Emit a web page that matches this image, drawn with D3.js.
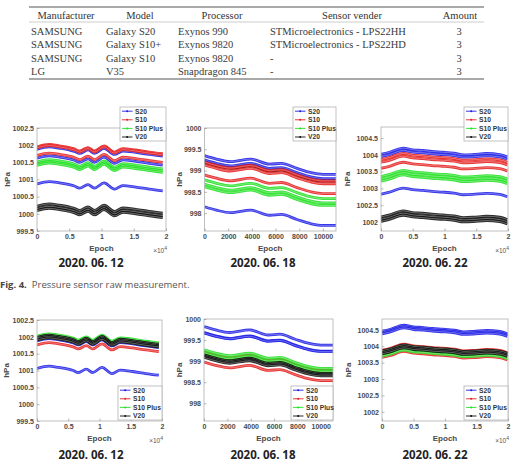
<!DOCTYPE html>
<html>
<head>
<meta charset="utf-8">
<script src="https://cdn.jsdelivr.net/npm/d3@7"></script>
<style>
  body { margin: 0; background: #fff; }
  svg { display: block; }
  .tick text { font-family: "Liberation Sans", Arial, sans-serif; font-weight: bold; font-size: 7px; fill: #4a4a4a; }
  .tick line { stroke: #8a8a8a; stroke-width: 0.6; }
</style>
</head>
<body>
<script>
////////////////// Table data ////////////////////
var tableHeader = ["Manufacturer", "Model", "Processor", "Sensor vender", "Amount"];
var tableRows = [
  ["SAMSUNG", "Galaxy S20", "Exynos 990", "STMicroelectronics - LPS22HH", "3"],
  ["SAMSUNG", "Galaxy S10+", "Exynos 9820", "STMicroelectronics - LPS22HD", "3"],
  ["SAMSUNG", "Galaxy S10", "Exynos 9820", "-", "3"],
  ["LG", "V35", "Snapdragon 845", "-", "3"]
];

////////////////// Chart data ////////////////////
var models = ["S20", "S10", "S10 Plus", "V20"];
var dates = ["2020. 06. 12", "2020. 06. 18", "2020. 06. 22"];

// common pressure trend of each day (hPa, relative to the first epoch)
var epoch0612 = [0, 1900, 3500, 5000, 5800, 6600, 7900, 8900, 10400, 12000, 13300, 15300, 17400, 19500];
var trend0612 = [0, 0.07, 0.03, -0.02, -0.06, -0.12, -0.02, -0.12, 0.03, -0.15, -0.05, -0.09, -0.15, -0.2];
var epoch0618 = [0, 1000, 2200, 3900, 5500, 6500, 7800, 9000, 10000, 11100];
var trend0618 = [0, -0.08, -0.14, -0.08, -0.2, -0.18, -0.3, -0.4, -0.44, -0.44];
var epoch0622 = [0, 1200, 3500, 5000, 6600, 8000, 9700, 11500, 13000, 14500, 16600, 18700, 19900];
var trend0622 = [0, 0.05, 0.18, 0.13, 0.11, 0.08, 0.06, 0.03, -0.02, -0.01, 0.02, -0.01, -0.08];

// start value of every device (3 per model), order S20, S10, S10 Plus, V20
var raw0612 = [[1001.88, 1001.62, 1000.87], [1001.95, 1001.92, 1001.70], [1001.51, 1001.45, 1001.41], [1000.22, 1000.15, 1000.09]];
var raw0618 = [[999.35, 999.25, 998.15], [999.20, 999.13, 998.90], [998.78, 998.68, 998.62], [999.22, 999.21, 999.19]];
var raw0622 = [[1004.02, 1003.95, 1002.83], [1003.86, 1003.78, 1003.60], [1003.36, 1003.29, 1003.22], [1002.15, 1002.08, 1002.02]];
var cal0612 = [[1001.93, 1001.88, 1001.06], [1001.98, 1001.92, 1001.76], [1002.02, 1001.97, 1001.92], [1001.98, 1001.94, 1001.90]];
var cal0618 = [[999.82, 999.68, 999.67], [999.22, 999.19, 998.98], [999.27, 999.20, 999.15], [999.15, 999.12, 999.09]];
var cal0622 = [[1004.46, 1004.42, 1004.38], [1003.88, 1003.82, 1003.66], [1003.84, 1003.76, 1003.70], [1003.86, 1003.81, 1003.77]];

// tick labels
var xTicksE4 = [0, 5000, 10000, 15000, 20000];
var xTicks0618 = [0, 2000, 4000, 6000, 8000, 10000];
var yTicks0612 = [999.5, 1000, 1000.5, 1001, 1001.5, 1002, 1002.5];
var yTicks0618 = [998, 998.5, 999, 999.5, 1000];
var yTicks0622 = [1002, 1002.5, 1003, 1003.5, 1004, 1004.5];

var modelColors = ["#1f1fe6", "#e61f1f", "#22e022", "#111111"];

////////////////// SVG Container ////////////////////
var svg = d3.select("body").append("svg")
  .attr("width", 514)
  .attr("height", 461);

////////////////// Table ////////////////////
var colLeft = [31, 106, 178, 270, 459];
var colHead = [66, 140, 222, 352, 460];
var serif = "'Liberation Serif', 'Times New Roman', serif";

svg.append("line").attr("x1", 29).attr("x2", 484).attr("y1", 7).attr("y2", 7)
  .attr("stroke", "#8c8c8c").attr("stroke-width", 1.6);
svg.append("line").attr("x1", 29).attr("x2", 484).attr("y1", 22).attr("y2", 22)
  .attr("stroke", "#b8b8b8").attr("stroke-width", 0.7);
svg.append("line").attr("x1", 29).attr("x2", 484).attr("y1", 79).attr("y2", 79)
  .attr("stroke", "#8c8c8c").attr("stroke-width", 1.6);

tableHeader.forEach(function (h, i) {
  svg.append("text")
    .attr("x", colHead[i]).attr("y", 18.5)
    .attr("text-anchor", "middle")
    .style("font-family", serif).style("font-size", "10.5px").style("fill", "#333")
    .text(h);
});
tableRows.forEach(function (row, r) {
  row.forEach(function (cell, i) {
    svg.append("text")
      .attr("x", colLeft[i]).attr("y", 34.5 + r * 13.5)
      .attr("text-anchor", i == 4 ? "middle" : "start")
      .style("font-family", serif).style("font-size", "10.5px").style("fill", "#3a3a3a")
      .text(cell);
  });
});

////////////////// Panels ////////////////////
var fmtE4 = function (d) { return String(d / 10000); };
var fmtPlain = function (d) { return String(d); };

var panels = [
  { left: 37, right: 166, top: 128, bottom: 231, xMax: 20000, yDomain: [999.5, 1002.5],
    epochs: epoch0612, trend: trend0612, offsets: raw0612, xTicks: xTicksE4, yTicks: yTicks0612, xFormat: fmtE4,
    order: [0, 1, 2, 3], legend: [120, 107], exp: true, hpaX: 7 },
  { left: 204.5, right: 336, top: 128, bottom: 231, xMax: 11100, yDomain: [997.58, 1000],
    epochs: epoch0618, trend: trend0618, offsets: raw0618, xTicks: xTicks0618, yTicks: yTicks0618, xFormat: fmtPlain,
    order: [3, 0, 1, 2], legend: [293, 107], exp: false, hpaX: 179 },
  { left: 381, right: 508, top: 127, bottom: 231, xMax: 20000, yDomain: [1001.73, 1004.83],
    epochs: epoch0622, trend: trend0622, offsets: raw0622, xTicks: xTicksE4, yTicks: yTicks0622, xFormat: fmtE4,
    order: [0, 1, 2, 3], legend: [464, 107], exp: true, hpaX: 347 },
  { left: 37, right: 162, top: 320, bottom: 421, xMax: 20000, yDomain: [999.5, 1002.5],
    epochs: epoch0612, trend: trend0612, offsets: cal0612, xTicks: xTicksE4, yTicks: yTicks0612, xFormat: fmtE4,
    order: [0, 1, 2, 3], legend: [118, 386], exp: true, hpaX: 6 },
  { left: 204, right: 333, top: 319, bottom: 421, xMax: 11050, yDomain: [997.58, 1000],
    epochs: epoch0618, trend: trend0618, offsets: cal0618, xTicks: xTicks0618, yTicks: yTicks0618, xFormat: fmtPlain,
    order: [0, 1, 2, 3], legend: [291, 386], exp: false, hpaX: 179 },
  { left: 382, right: 508, top: 319, bottom: 421, xMax: 20000, yDomain: [1001.72, 1004.83],
    epochs: epoch0622, trend: trend0622, offsets: cal0622, xTicks: xTicksE4, yTicks: yTicks0622, xFormat: fmtE4,
    order: [0, 1, 2, 3], legend: [464, 386], exp: true, hpaX: 348 }
];

var sans = "'Liberation Sans', Arial, sans-serif";

panels.forEach(function (p, k) {
  var x = d3.scaleLinear().domain([0, p.xMax]).range([p.left, p.right]);
  var y = d3.scaleLinear().domain(p.yDomain).range([p.bottom, p.top]);
  var g = svg.append("g");

  g.append("clipPath").attr("id", "clip" + k)
    .append("rect")
    .attr("x", p.left).attr("y", p.top)
    .attr("width", p.right - p.left).attr("height", p.bottom - p.top);

  var line = d3.line()
    .x(function (d) { return x(d[0]); })
    .y(function (d) { return y(d[1]); })
    .curve(d3.curveMonotoneX);

  var lines = g.append("g").attr("clip-path", "url(#clip" + k + ")");
  p.order.forEach(function (m) {
    p.offsets[m].forEach(function (v) {
      var pts = p.epochs.map(function (e, i) { return [e, v + p.trend[i]]; });
      lines.append("path").attr("d", line(pts))
        .attr("fill", "none").attr("stroke", modelColors[m]).attr("stroke-width", 2.8)
        .attr("stroke-opacity", 0.9);
      lines.append("path").attr("d", line(pts))
        .attr("fill", "none").attr("stroke", "#fff").attr("stroke-opacity", 0.45).attr("stroke-width", 0.7);
    });
  });

  // box
  g.append("rect")
    .attr("x", p.left).attr("y", p.top)
    .attr("width", p.right - p.left).attr("height", p.bottom - p.top)
    .attr("fill", "none").attr("stroke", "#b0b0b0").attr("stroke-width", 0.8);

  // axes
  var xAxis = g.append("g")
    .attr("transform", "translate(0," + p.bottom + ")")
    .call(d3.axisBottom(x).tickValues(p.xTicks).tickSizeInner(-2.5).tickSizeOuter(0).tickPadding(3.5).tickFormat(p.xFormat));
  xAxis.select(".domain").remove();

  var yAxis = g.append("g")
    .attr("transform", "translate(" + p.left + ",0)")
    .call(d3.axisLeft(y).tickValues(p.yTicks).tickSizeInner(-2.5).tickSizeOuter(0).tickPadding(3).tickFormat(fmtPlain));
  yAxis.select(".domain").remove();

  // axis labels
  g.append("text")
    .attr("x", (p.left + p.right) / 2).attr("y", p.bottom + 20)
    .attr("text-anchor", "middle")
    .style("font-family", sans).style("font-weight", "bold").style("font-size", "8px").style("fill", "#4a4a4a")
    .text("Epoch");

  g.append("text")
    .attr("transform", "translate(" + (p.hpaX + 3) + "," + ((p.top + p.bottom) / 2) + ") rotate(-90)")
    .attr("text-anchor", "middle")
    .style("font-family", sans).style("font-weight", "bold").style("font-size", "8px").style("fill", "#4a4a4a")
    .text("hPa");

  if (p.exp) {
    var ex = g.append("text")
      .attr("x", p.right + 1).attr("y", p.bottom + 22)
      .attr("text-anchor", "end")
      .style("font-family", sans).style("font-size", "6.5px").style("fill", "#555");
    ex.append("tspan").text("\u00d710");
    ex.append("tspan").attr("dy", -3).style("font-size", "5px").text("4");
  }

  // legend
  var lx = p.legend[0], ly = p.legend[1];
  var lw = p.right - lx, lh = 34;
  var lg = g.append("g");
  lg.append("rect").attr("x", lx).attr("y", ly).attr("width", lw).attr("height", lh)
    .attr("fill", "#fff").attr("stroke", "#a8a8a8").attr("stroke-width", 0.7);
  models.forEach(function (name, i) {
    var cy = ly + 4.2 + i * 8.6;
    lg.append("line").attr("x1", lx + 2).attr("x2", lx + 12.5).attr("y1", cy).attr("y2", cy)
      .attr("stroke", modelColors[i]).attr("stroke-width", 0.9);
    lg.append("circle").attr("cx", lx + 7.2).attr("cy", cy).attr("r", 1)
      .attr("fill", modelColors[i]);
    lg.append("text").attr("x", lx + 15).attr("y", cy + 2.4)
      .style("font-family", sans).style("font-weight", "bold").style("font-size", "6.7px").style("fill", "#333")
      .text(name);
  });
});

////////////////// Date labels and caption ////////////////////
var dateX = [91, 263, 435];
[267, 459].forEach(function (by) {
  dates.forEach(function (d, i) {
    svg.append("text")
      .attr("x", dateX[i]).attr("y", by)
      .attr("text-anchor", "middle")
      .style("font-family", "'Noto Sans', 'Open Sans', sans-serif").style("font-weight", "bold")
      .style("font-size", "11.5px").style("fill", "#222")
      .text(d);
  });
});

var cap = svg.append("text")
  .attr("x", 0).attr("y", 287.5)
  .style("font-family", "'Open Sans', 'Noto Sans', sans-serif").style("font-size", "9.5px").style("fill", "#555");
cap.append("tspan").style("font-weight", "bold").style("fill", "#444").text("Fig. 4.");
cap.append("tspan").attr("dx", 5).text("Pressure sensor raw measurement.");
</script>
</body>
</html>
